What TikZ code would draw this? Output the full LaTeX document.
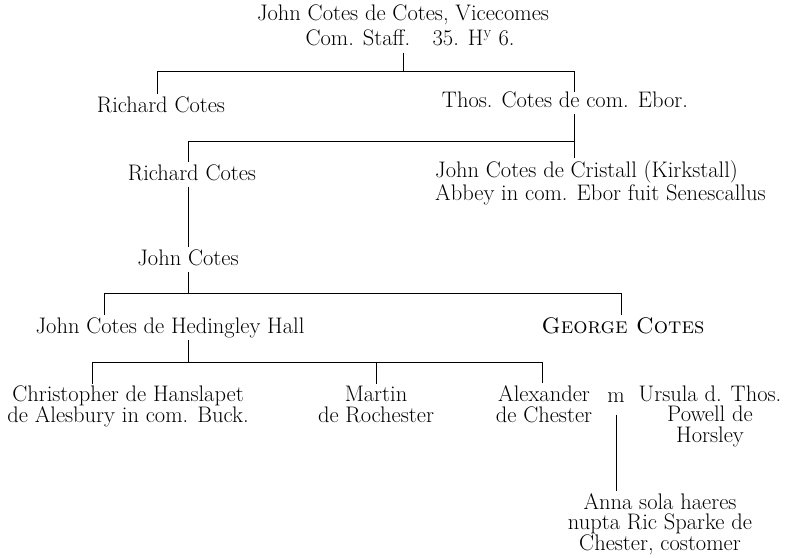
\documentclass[tikz,border=0pt]{standalone}
\usepackage{tikz}
\tikzset{person/.style = {inner xsep = 0, inner ysep = 2, text height = 16, text depth = 4.5, anchor = base}}
\tikzset{family/.style = {inner xsep = 0, inner ysep = 2, align = center, anchor = base}}
\tikzset{tie/.style = {line width = 0.7}}

\begin{document}
\begin{tikzpicture}[x = 1pt, y = -1pt, font = \fontsize{22.5}{20.5}\selectfont]
    \useasboundingbox (0, 0) rectangle (791, 557);
    \node [family, font = \fontsize{22.5}{24.5}\selectfont] (cotes) at (403, 45) {John Cotes de Cotes, Vicecomes\\\hspace*{14pt}Com. Staff.\quad 35. H\textsuperscript{y} 6.};
    \node [person] (richard) at (161, 112) {Richard Cotes};
    \node [person] (thos) at (565, 107) {Thos. Cotes de com. Ebor.};
    \node [person] (richardii) at (192, 180) {Richard Cotes};
    \node [family, align = left, anchor = base west] (cristall) at (435, 200) {John Cotes de Cristall (Kirkstall)\\Abbey in com. Ebor fuit Senescallus};
    \node [person] (john) at (188, 265) {John Cotes};
    \node [person] (hedingley) at (170, 333) {John Cotes de Hedingley Hall};
    \node [person] (george) at (623, 333) {\textsc{George Cotes}};
    \node [family] (christopher) at (128, 422) {Christopher de Hanslapet\\de Alesbury in com. Buck.};
    \node [family] (martin) at (376, 422) {Martin\\de Rochester};
    \node [family] (alexander) at (544, 422) {Alexander\\de Chester};
    \node [person] (m) at (616, 402) {m};
    \node [family] (ursula) at (710, 442) {Ursula d. Thos.\\Powell de\\Horsley};
    \node [family] (anna) at (660, 550) {Anna sola haeres\\nupta Ric Sparke de\\Chester, costomer};
    \coordinate (ai) at (157, 71);
    \coordinate (bi) at (574, 71);
    \coordinate (aii) at (188, 141);
    \coordinate (bii) at (574, 141);
    \coordinate (aiii) at (104, 293);
    \coordinate (biii) at (621, 293);
    \coordinate (aiv) at (92, 362);
    \coordinate (civ) at (188, 362);
    \coordinate (biv) at (542, 362);
    \draw [tie, shorten < = 5] (cotes.south) -- (cotes.south |- ai);
    \draw [tie] (ai) -- (bi);
    \draw [tie] (ai) -- (ai |- richard.north);
    \draw [tie, shorten > = -3] (bi) -- (bi |- thos.north);
    \draw [tie] (aii) -- (bii);
    \draw [tie] (thos.south -| bii) -- (bii |- cristall.north);
    \draw [tie] (aii) -- (aii |- richardii.north);
    \draw [tie] (richardii.south -| john) -- (john);
    \draw [tie] (john) -- (john |- aiii);
    \draw [tie] (aiii) -- (biii);
    \draw [tie] (aiii) -- (aiii |- hedingley.north);
    \draw [tie] (biii) -- (biii |- george.north);
    \draw [tie] (hedingley.south -| civ) -- (civ);
    \draw [tie] (aiv) -- (biv);
    \draw [tie] (aiv) -- (aiv |- christopher.north);
    \draw [tie] (martin.north |- aiv) -- (martin.north);
    \draw [tie] (biv) -- (biv |- alexander.north);
    \draw [tie, shorten < = 6] (m.south) -- (m.south |- anna.north);
\end{tikzpicture}
\end{document}
